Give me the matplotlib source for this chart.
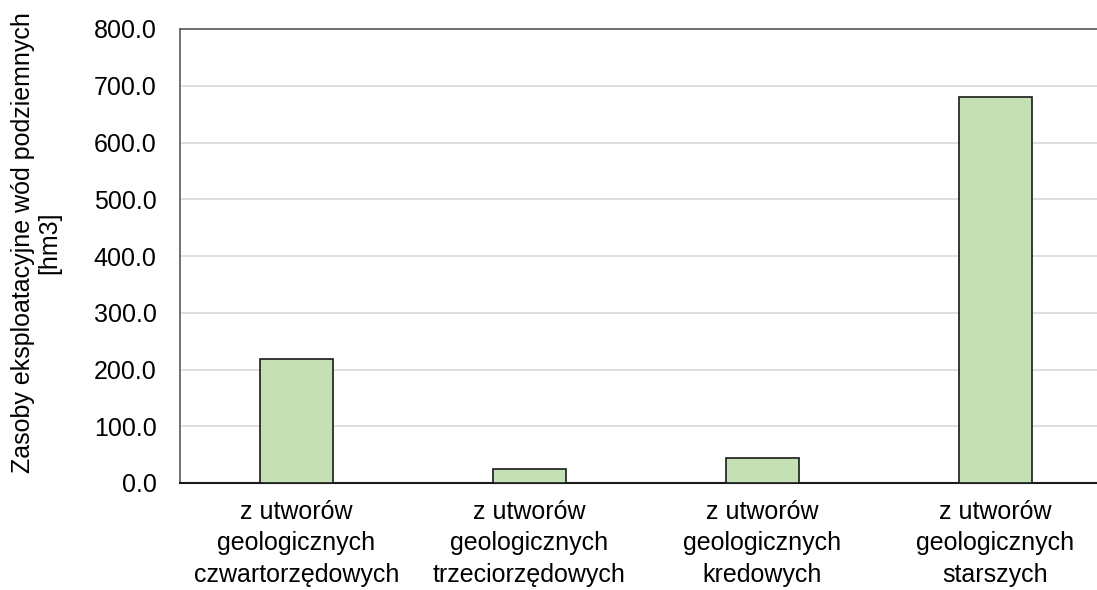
import matplotlib.pyplot as plt
import numpy as np

plt.rcParams['font.family'] = ['Liberation Sans', 'DejaVu Sans']

kategorie = ['z utworów\ngeologicznych\nczwartorzędowych',
             'z utworów\ngeologicznych\ntrzeciorzędowych',
             'z utworów\ngeologicznych\nkredowych',
             'z utworów\ngeologicznych\nstarszych']
zasoby = [219.0, 24.0, 43.5, 681.0]
y_ticks = [0, 100, 200, 300, 400, 500, 600, 700, 800]

fig = plt.figure(figsize=(10.97, 5.90), dpi=100)
ax = fig.add_axes([180 / 1097, 1 - 483 / 590, 1 - 180 / 1097, (483 - 29) / 590])

x = np.arange(len(kategorie))
ax.bar(x, zasoby, width=0.313, color='#C5E0B4', edgecolor='#1a1a1a', linewidth=1.2, zorder=3)

# obszar wykresu wychodzi poza prawa krawedz obrazka
ax.set_xlim(-0.5, 3.5 - 15 / 233)
ax.set_ylim(0, 800)
ax.set_yticks(y_ticks)
ax.set_yticklabels([f'{v:.1f}' for v in y_ticks])
ax.set_xticks(x)
ax.set_xticklabels(kategorie, linespacing=1.4)
ax.tick_params(axis='both', length=0, labelsize=18)
ax.tick_params(axis='y', pad=17)
ax.tick_params(axis='x', pad=12)

ax.yaxis.grid(True, color='#d9d9d9', linewidth=1.2, zorder=0)
ax.set_axisbelow(True)
for s in ['left', 'top']:
    ax.spines[s].set_color('#595959')
    ax.spines[s].set_linewidth(1.2)
ax.spines['bottom'].set_color('#1a1a1a')
ax.spines['bottom'].set_linewidth(1.5)
ax.spines['right'].set_visible(False)

ax.set_ylabel('Zasoby eksploatacyjne wód podziemnych\n[hm3]', fontsize=18, linespacing=1.1)
ax.yaxis.set_label_coords(-119 / 917, 0.53)

fig.savefig('out.png', dpi=100)
